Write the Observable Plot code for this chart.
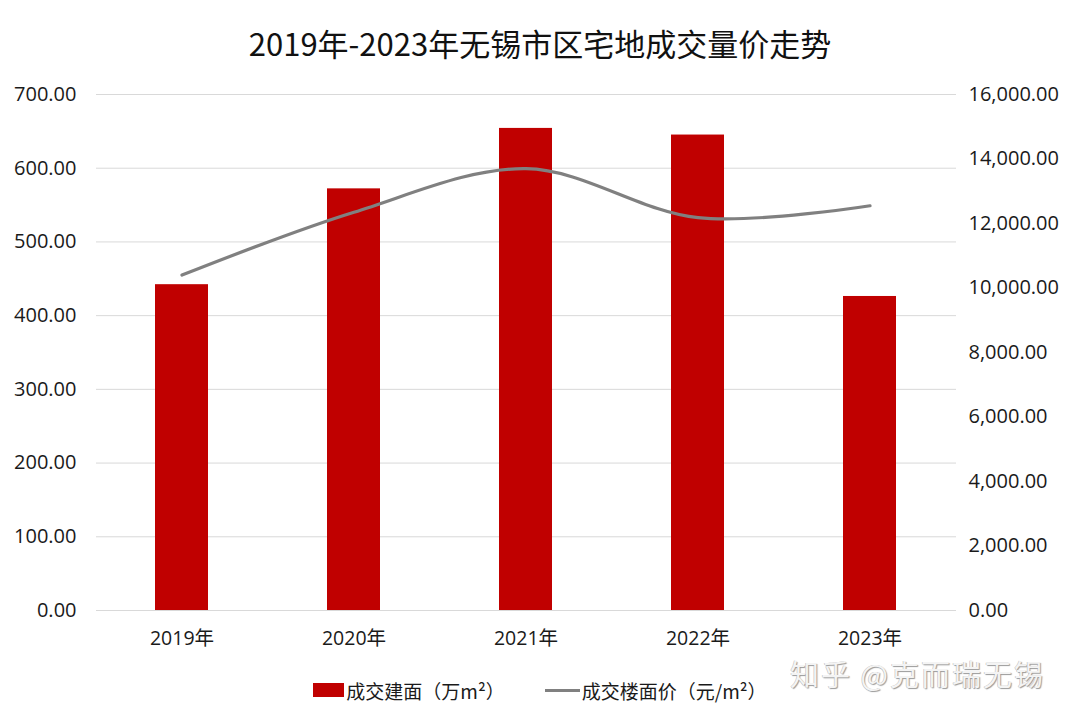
<!DOCTYPE html>
<html>
<head>
<meta charset="utf-8">
<script src="https://cdn.jsdelivr.net/npm/d3@7"></script>
<script src="https://cdn.jsdelivr.net/npm/@observablehq/plot@0.6"></script>
<style>
  html, body { margin: 0; padding: 0; background: #fff; }
  body { width: 1080px; height: 720px; overflow: hidden; position: relative;
         font-family: "Noto Sans CJK SC", "Noto Sans", sans-serif; color: #1a1a1a; }
  #title { height: 80px; line-height: 86px; text-align: center; font-size: 31px; color: #111; }
  #chart { height: 580px; }
  #legend { height: 60px; display: flex; justify-content: center; align-items: center;
            font-size: 19px; color: #1a1a1a; box-sizing: border-box; }
  .item { display: flex; align-items: center; margin: 0 20px; }
  .swatch-bar { width: 31px; height: 14px; background: #C00000; margin-right: 2px; }
  .swatch-line { width: 35px; height: 3px; background: #808080; margin-right: 2px; }
  #mark { position: absolute; left: 790px; top: 652px; font-size: 29px; color: #f4f4f4;
          text-shadow: 1px 1px 1px #999, -0.5px -0.5px 0 #bbb; letter-spacing: 2px; }
</style>
</head>
<body>
<div id="title">2019年-2023年无锡市区宅地成交量价走势</div>
<div id="chart"></div>
<div id="legend">
  <div class="item"><div class="swatch-bar"></div><span>成交建面（万m²）</span></div>
  <div class="item"><div class="swatch-line"></div><span>成交楼面价（元/m²）</span></div>
</div>
<div id="mark">知乎 @克而瑞无锡</div>
<script>
const years = ["2019年", "2020年", "2021年", "2022年", "2023年"];
const area = [442, 572, 654, 645, 426];          // 成交建面（万m²）
const price = [10400, 12350, 13700, 12180, 12550]; // 成交楼面价（元/m²）
const leftTicks = [0, 100, 200, 300, 400, 500, 600, 700];
const rightTicks = [0, 2000, 4000, 6000, 8000, 10000, 12000, 14000, 16000];

const leftMax = 700, rightMax = 16000;
const k = leftMax / rightMax;

const bars = years.map((y, i) => ({year: y, value: area[i]}));
const line = years.map((y, i) => ({year: y, value: price[i] * k}));

const fmt2 = d3.format(",.2f");
const font = '"Open Sans", "Noto Sans CJK SC", sans-serif';

const chart = Plot.plot({
  width: 1080,
  height: 580,
  marginTop: 14,
  marginBottom: 50,
  marginLeft: 96,
  marginRight: 124,
  style: { fontFamily: font, fontSize: "20px", color: "#1a1a1a", background: "#fff" },
  x: { domain: years, paddingInner: 0.69, paddingOuter: 0.345, label: null },
  y: { domain: [0, leftMax], label: null },
  marks: [
    Plot.gridY(leftTicks, { stroke: "#d9d9d9", strokeOpacity: 1, strokeWidth: 1 }),
    Plot.barY(bars, { x: "year", y: "value", fill: "#C00000" }),
    Plot.line(line, { x: "year", y: "value", stroke: "#808080", strokeWidth: 3.2, curve: "catmull-rom" }),
    Plot.axisX({ tickSize: 0, tickPadding: 21, label: null, fontSize: 19.5 }),
    Plot.axisY({ anchor: "left", ticks: leftTicks, tickSize: 0, tickPadding: 20, tickFormat: d => fmt2(d), label: null, fontSize: 20 }),
    Plot.axisY({ anchor: "right", ticks: rightTicks.map(v => v * k), tickSize: 0, tickPadding: 12,
                 tickFormat: d => fmt2(Math.round(d / k)), label: null, fontSize: 20 })
  ]
});
document.getElementById("chart").appendChild(chart);
</script>
</body>
</html>
